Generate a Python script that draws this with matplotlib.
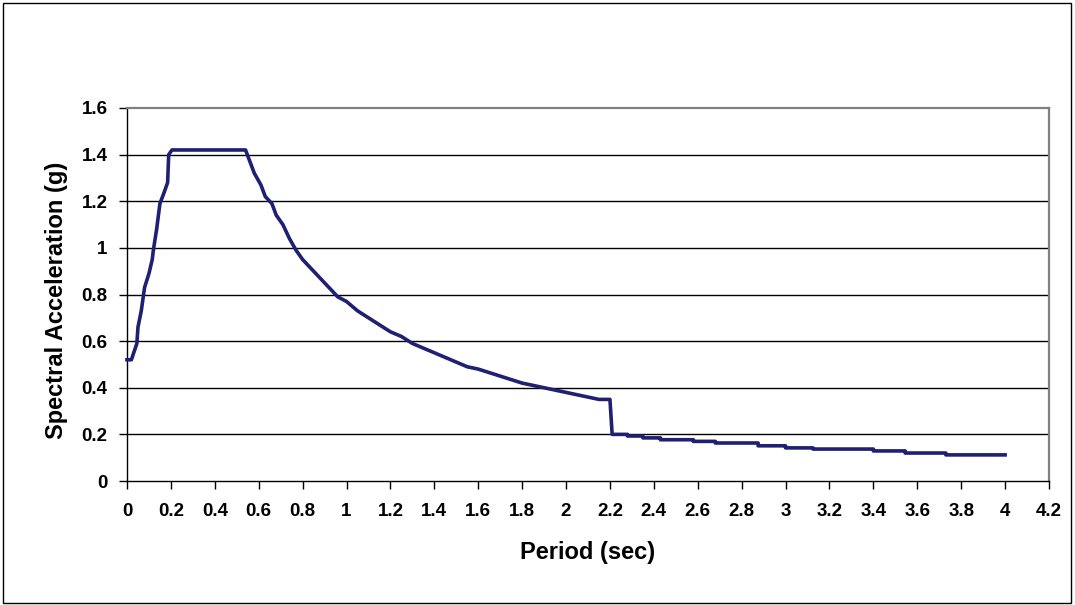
import matplotlib
matplotlib.use("Agg")
import matplotlib.pyplot as plt
from matplotlib.patches import Rectangle

# Data
period = [0.0, 0.02, 0.045, 0.05, 0.065, 0.08, 0.10, 0.115, 0.12, 0.135, 0.15, 0.17, 0.185, 0.19, 0.205,
          0.54, 0.56, 0.58, 0.61, 0.63, 0.66, 0.68, 0.71, 0.74, 0.77, 0.80, 0.84, 0.88, 0.92, 0.96,
          1.00, 1.05, 1.10, 1.15, 1.20, 1.25, 1.30, 1.35, 1.40, 1.45, 1.50, 1.55, 1.60, 1.65, 1.70,
          1.75, 1.80, 1.85, 1.90, 1.95, 2.00, 2.05, 2.10, 2.15, 2.20,
          2.21, 2.28, 2.28, 2.35, 2.35, 2.43, 2.43, 2.58, 2.58, 2.68, 2.68, 2.875, 2.875, 3.0, 3.0,
          3.125, 3.125, 3.40, 3.40, 3.545, 3.545, 3.73, 3.73, 4.0]
sa = [0.52, 0.52, 0.59, 0.66, 0.73, 0.83, 0.89, 0.95, 0.99, 1.08, 1.19, 1.24, 1.28, 1.40, 1.42,
      1.42, 1.37, 1.32, 1.27, 1.22, 1.19, 1.14, 1.10, 1.04, 0.99, 0.95, 0.91, 0.87, 0.83, 0.79,
      0.77, 0.73, 0.70, 0.67, 0.64, 0.62, 0.59, 0.57, 0.55, 0.53, 0.51, 0.49, 0.48, 0.465, 0.45,
      0.435, 0.42, 0.41, 0.40, 0.39, 0.38, 0.37, 0.36, 0.35, 0.35,
      0.20, 0.20, 0.193, 0.193, 0.185, 0.185, 0.177, 0.177, 0.17, 0.17, 0.163, 0.163, 0.151, 0.151, 0.142,
      0.142, 0.137, 0.137, 0.129, 0.129, 0.12, 0.12, 0.112, 0.112]

x_ticks = [0, 0.2, 0.4, 0.6, 0.8, 1, 1.2, 1.4, 1.6, 1.8, 2, 2.2, 2.4, 2.6, 2.8, 3, 3.2, 3.4, 3.6, 3.8, 4, 4.2]
x_tick_labels = ["0", "0.2", "0.4", "0.6", "0.8", "1", "1.2", "1.4", "1.6", "1.8", "2", "2.2", "2.4",
                 "2.6", "2.8", "3", "3.2", "3.4", "3.6", "3.8", "4", "4.2"]
y_ticks = [0, 0.2, 0.4, 0.6, 0.8, 1, 1.2, 1.4, 1.6]
y_tick_labels = ["0", "0.2", "0.4", "0.6", "0.8", "1", "1.2", "1.4", "1.6"]

plt.rcParams['font.family'] = ['Liberation Sans', 'DejaVu Sans']

W, H = 1075, 605
fig = plt.figure(figsize=(W / 100, H / 100), dpi=100)
fig.patch.set_facecolor('white')

# outer chart border
fig.patches.append(Rectangle((3 / W, 2 / H), (W - 7) / W, (H - 5) / H, transform=fig.transFigure,
                             fill=False, edgecolor='black', linewidth=1.0))

left, right, top, bottom = 127, 1049, 108, 481
ax = fig.add_axes([left / W, 1 - bottom / H, (right - left) / W, (bottom - top) / H])

ax.set_xlim(0, 4.2)
ax.set_ylim(0, 1.6)
ax.set_yticks(y_ticks)
ax.set_yticklabels(y_tick_labels)
ax.set_xticks(x_ticks)
ax.set_xticklabels(x_tick_labels)

for yv in y_ticks[1:-1]:
    ax.axhline(yv, color='black', linewidth=1.0, zorder=1)

ax.plot(period, sa, color='#1f1f73', linewidth=2.6, solid_joinstyle='round', zorder=3, clip_on=False)

for s in ['left', 'bottom']:
    ax.spines[s].set_color('black')
    ax.spines[s].set_linewidth(1.0)
for s in ['top', 'right']:
    ax.spines[s].set_color('#808080')
    ax.spines[s].set_linewidth(1.6)

ax.tick_params(axis='both', direction='out', length=6, width=1.0, color='black')
ax.tick_params(axis='x', pad=10)
ax.tick_params(axis='y', pad=8)
for lab in ax.get_xticklabels() + ax.get_yticklabels():
    lab.set_fontsize(13.5)
    lab.set_fontweight('bold')

fig.text(588 / W, 1 - 553 / H, "Period (sec)", ha='center', va='center',
         fontsize=17, fontweight='bold')
fig.text(57 / W, 1 - 300 / H, "Spectral Acceleration (g)", ha='center', va='center',
         rotation=90, fontsize=17, fontweight='bold')

fig.savefig("out.png", dpi=100)
